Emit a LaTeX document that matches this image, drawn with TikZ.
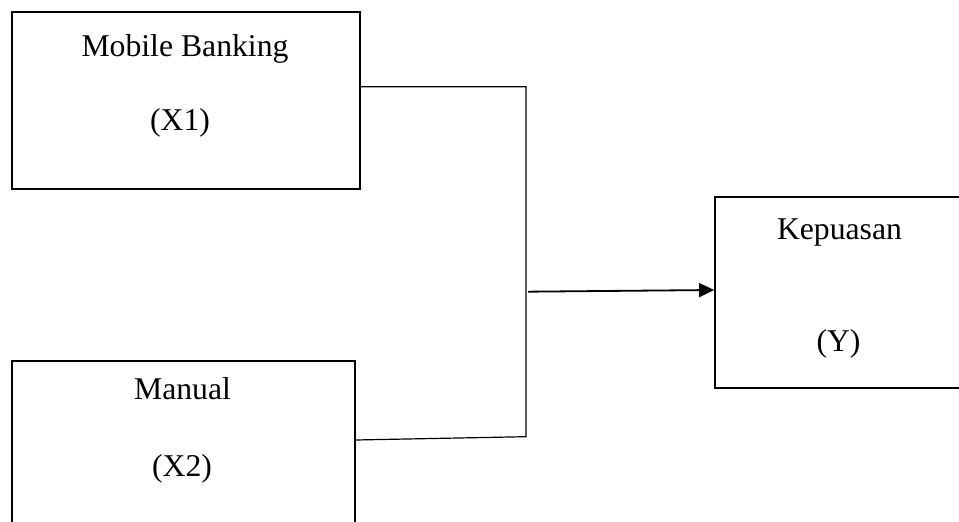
\documentclass[tikz,border=0pt]{standalone}
\usepackage{fontspec}
\setmainfont{Liberation Serif}
\usetikzlibrary{arrows.meta}
\begin{document}
\begin{tikzpicture}[x=0.5pt,y=-0.5pt,
  box/.style={draw=black,line width=0.9pt,rectangle,inner sep=0pt,fill=none},
  lbl/.style={inner sep=0pt,anchor=base,font=\fontsize{15.85}{19}\selectfont},
  conn/.style={draw=black,line width=0.6pt},
  arr/.style={draw=black,line width=0.9pt,-{Triangle[length=7.5pt,width=7pt]}}]
\useasboundingbox (0,0) rectangle (959,522);
\clip (0,0) rectangle (959,522);
\node[box,minimum width=174pt,minimum height=88.5pt] (b1) at (186,100.5) {};
\node[box,minimum width=171.5pt,minimum height=99.5pt] (b2) at (183.5,460.5) {};
\node[box,minimum width=137.5pt,minimum height=95.5pt] (by) at (852.5,292.5) {};
\node[lbl] (t1) at (185,57) {Mobile Banking};
\node[lbl] (t1b) at (180,131) {(X1)};
\node[lbl] (t2) at (182.5,400) {Manual};
\node[lbl] (t2b) at (182,477) {(X2)};
\node[lbl] (ty) at (839.5,239.3) {Kepuasan};
\node[lbl] (tyb) at (838.5,351.7) {(Y)};
\coordinate (j1) at (526,86.7);
\coordinate (j2) at (526,436.7);
\coordinate (jb) at (0,440);
\coordinate (j3) at (528,291.7);
\coordinate (ja) at (0,290);
\draw[conn] (b1.east |- j1) -- (j1) -- (j2) -- (b2.east |- jb);
\draw[arr] (j3) -- (by.west |- ja);
\end{tikzpicture}
\end{document}
